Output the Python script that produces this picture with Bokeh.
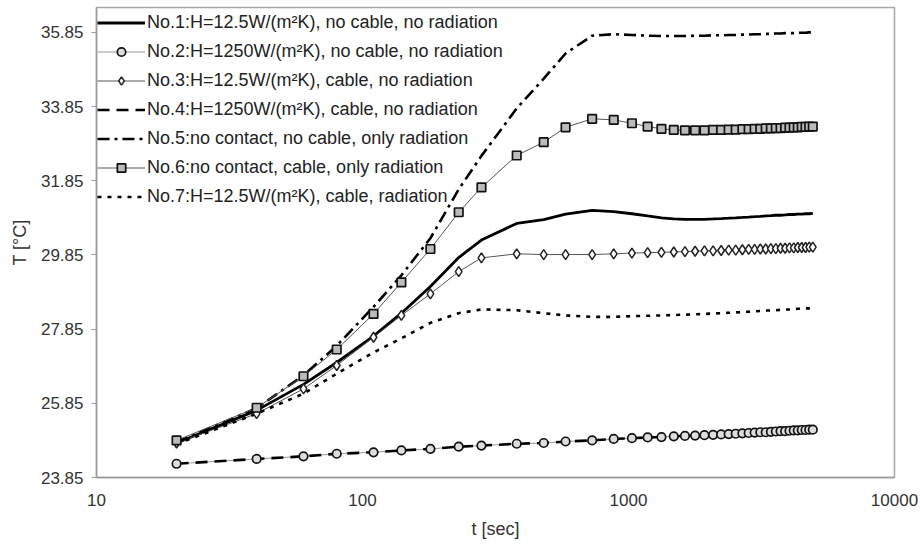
from bokeh.plotting import figure
from bokeh.models import (Legend, LegendItem, FixedTicker, PrintfTickFormatter,
                          BasicTickFormatter, Range1d)
from bokeh.embed import file_html
from bokeh.resources import INLINE

t_sec = [20, 40, 60, 80, 110, 140, 180, 230, 280, 380, 480, 580, 730, 880,
         1030, 1180, 1330, 1480, 1630, 1780, 1930, 2080, 2230, 2380, 2530, 2680,
         2830, 2980, 3130, 3280, 3430, 3580, 3730, 3880, 4030, 4180, 4330, 4480,
         4630, 4780, 4930]

no1 = [24.78, 25.66, 26.36, 26.95, 27.66, 28.28, 29.00, 29.78, 30.25, 30.70, 30.80, 30.95, 31.05, 31.02,
       30.96, 30.90, 30.85, 30.82, 30.81, 30.81, 30.81, 30.82, 30.83, 30.84, 30.85, 30.86, 30.87,
       30.88, 30.89, 30.90, 30.91, 30.92, 30.92, 30.93, 30.94, 30.94, 30.95, 30.95, 30.96, 30.96, 30.97]

no2 = [24.22, 24.35, 24.42, 24.49, 24.53, 24.58, 24.62, 24.68, 24.71, 24.76, 24.78, 24.82, 24.85, 24.89,
       24.91, 24.93, 24.94, 24.96, 24.97, 24.98, 24.99, 25.00, 25.01, 25.02, 25.03, 25.04, 25.05,
       25.06, 25.07, 25.07, 25.08, 25.09, 25.10, 25.10, 25.11, 25.12, 25.12, 25.13, 25.13, 25.14, 25.14]

no3 = [24.78, 25.57, 26.24, 26.87, 27.63, 28.22, 28.80, 29.40, 29.77, 29.88, 29.86, 29.86, 29.86, 29.88,
       29.90, 29.91, 29.92, 29.93, 29.94, 29.95, 29.96, 29.96, 29.97, 29.98, 29.98, 29.99, 30.00,
       30.00, 30.01, 30.01, 30.02, 30.02, 30.03, 30.03, 30.04, 30.04, 30.05, 30.05, 30.05, 30.06, 30.06]

no4 = [24.22, 24.35, 24.42, 24.49, 24.53, 24.58, 24.62, 24.68, 24.71, 24.76, 24.78, 24.82, 24.85, 24.89,
       24.91, 24.93, 24.94, 24.96, 24.97, 24.98, 24.99, 25.00, 25.01, 25.02, 25.03, 25.04, 25.05,
       25.06, 25.07, 25.07, 25.08, 25.09, 25.10, 25.10, 25.11, 25.12, 25.12, 25.13, 25.13, 25.14, 25.14]

no5 = [24.80, 25.72, 26.60, 27.40, 28.45, 29.30, 30.30, 31.62, 32.52, 33.80, 34.60, 35.28, 35.76, 35.80,
       35.78, 35.76, 35.75, 35.75, 35.75, 35.76, 35.76, 35.77, 35.77, 35.78, 35.78, 35.79, 35.79,
       35.80, 35.80, 35.81, 35.81, 35.82, 35.82, 35.83, 35.83, 35.83, 35.84, 35.84, 35.84, 35.85, 35.85]

no6 = [24.85, 25.73, 26.58, 27.30, 28.26, 29.11, 30.01, 31.00, 31.67, 32.53, 32.89, 33.29, 33.52, 33.49,
       33.40, 33.31, 33.25, 33.22, 33.21, 33.21, 33.21, 33.22, 33.22, 33.23, 33.23, 33.24, 33.24,
       33.25, 33.25, 33.26, 33.26, 33.27, 33.27, 33.28, 33.28, 33.29, 33.29, 33.30, 33.30, 33.31, 33.31]

no7 = [24.75, 25.57, 26.11, 26.65, 27.22, 27.60, 28.02, 28.28, 28.38, 28.36, 28.28, 28.22, 28.18, 28.18,
       28.20, 28.21, 28.22, 28.23, 28.24, 28.25, 28.26, 28.27, 28.28, 28.29, 28.30, 28.31, 28.32,
       28.33, 28.34, 28.35, 28.35, 28.36, 28.37, 28.38, 28.38, 28.39, 28.40, 28.40, 28.41, 28.41, 28.42]

labels = [
    "No.1:H=12.5W/(m\u00b2K), no cable, no radiation",
    "No.2:H=1250W/(m\u00b2K), no cable, no radiation",
    "No.3:H=12.5W/(m\u00b2K), cable, no radiation",
    "No.4:H=1250W/(m\u00b2K), cable, no radiation",
    "No.5:no contact, no cable, only radiation",
    "No.6:no contact, cable, only radiation",
    "No.7:H=12.5W/(m\u00b2K), cable, radiation",
]

y_ticks = [23.85, 25.85, 27.85, 29.85, 31.85, 33.85, 35.85]
x_ticks = [10, 100, 1000, 10000]

FONT = "Liberation Sans"
TXT = "#333333"
AX = "#9a9a9a"

p = figure(width=920, height=545, x_axis_type="log",
           x_range=Range1d(10, 10000), y_range=Range1d(23.85, 36.52),
           output_backend="svg", toolbar_location=None,
           min_border_left=96, min_border_right=26, min_border_top=7, min_border_bottom=68)

p.xgrid.visible = False
p.ygrid.visible = False
p.outline_line_color = "#a8a8a8"
p.outline_line_width = 1.5
p.background_fill_color = "white"
p.border_fill_color = "white"

# axes
p.xaxis.ticker = FixedTicker(ticks=x_ticks)
p.xaxis.formatter = BasicTickFormatter(use_scientific=False)
p.yaxis.ticker = FixedTicker(ticks=y_ticks)
p.yaxis.formatter = PrintfTickFormatter(format="%.2f")
p.xaxis.axis_label = "t [sec]"
p.yaxis.axis_label = "T [\u00b0C]"
for ax in (p.xaxis[0], p.yaxis[0]):
    ax.axis_line_color = AX
    ax.axis_line_width = 1.5
    ax.major_tick_line_color = AX
    ax.minor_tick_line_color = None
    ax.major_label_text_font = FONT
    ax.major_label_text_font_size = "17px"
    ax.major_label_text_color = TXT
    ax.axis_label_text_font = FONT
    ax.axis_label_text_font_size = "18px"
    ax.axis_label_text_font_style = "normal"
    ax.axis_label_text_color = TXT
p.xaxis.major_tick_out = 0
p.xaxis.major_tick_in = 0
p.xaxis.major_label_standoff = 16
p.xaxis.axis_label_standoff = 10
p.yaxis.major_tick_out = 5
p.yaxis.major_tick_in = 0
p.yaxis.major_label_standoff = 8
p.yaxis.axis_label_standoff = 8

# series
r1 = p.line(t_sec, no1, line_color="black", line_width=2.8)
r2l = p.line(t_sec, no2, line_color="#8a8a8a", line_width=0.9)
r4 = p.line(t_sec, no4, line_color="black", line_width=2.6, line_dash="12 7")
r3l = p.line(t_sec, no3, line_color="#555555", line_width=1.0)
r5 = p.line(t_sec, no5, line_color="black", line_width=2.6, line_dash="12 5 3 5")
r6l = p.line(t_sec, no6, line_color="#555555", line_width=1.0)
r7 = p.line(t_sec, no7, line_color="black", line_width=2.6, line_dash="4 6")

r2m = p.scatter(t_sec, no2, marker="circle", size=8.5, fill_color="#dddddd",
                line_color="#111111", line_width=1.7)
r3m = p.scatter(t_sec, no3, marker="diamond", size=10, fill_color="white",
                line_color="#222222", line_width=1.5)
r6m = p.scatter(t_sec, no6, marker="square", size=8.5, fill_color="#bbbbbb",
                line_color="#111111", line_width=1.7)

items = [
    LegendItem(label=labels[0], renderers=[r1]),
    LegendItem(label=labels[1], renderers=[r2l, r2m]),
    LegendItem(label=labels[2], renderers=[r3l, r3m]),
    LegendItem(label=labels[3], renderers=[r4]),
    LegendItem(label=labels[4], renderers=[r5]),
    LegendItem(label=labels[5], renderers=[r6l, r6m]),
    LegendItem(label=labels[6], renderers=[r7]),
]
legend = Legend(items=items, location=(1, 270), orientation="vertical",
                glyph_width=48, glyph_height=21, label_height=21, label_standoff=2,
                spacing=8, padding=0, margin=0,
                background_fill_alpha=0, border_line_alpha=0,
                label_text_font=FONT, label_text_font_size="18px",
                label_text_color="#222222")
p.add_layout(legend)

open("out.html", "w").write(file_html(p, INLINE))
